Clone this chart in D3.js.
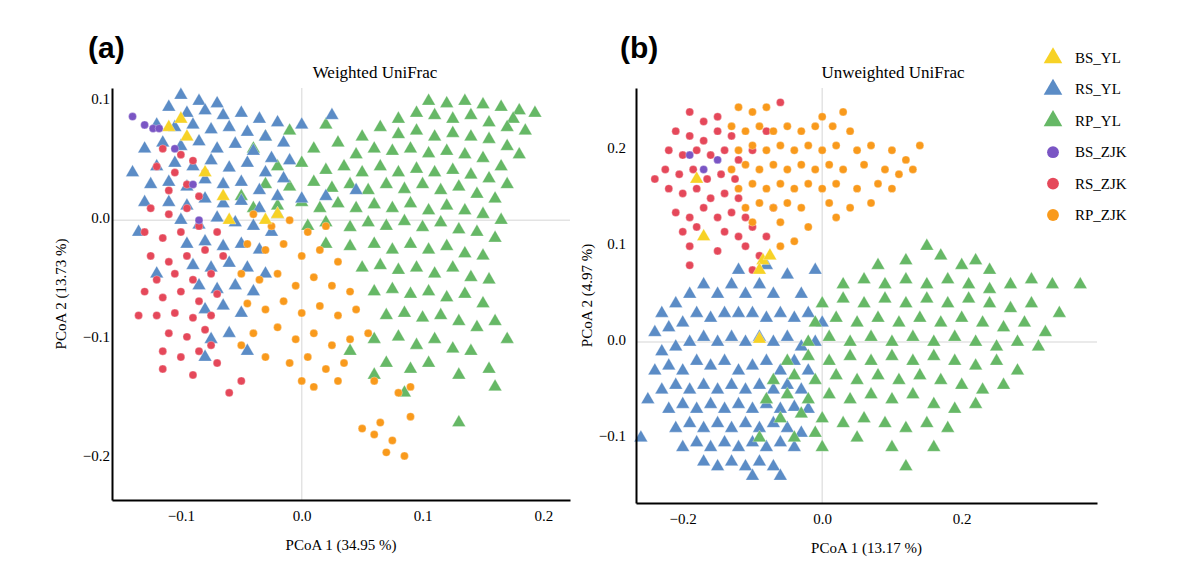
<!DOCTYPE html>
<html lang="en">
<head>
<meta charset="UTF-8">
<title>PCoA</title>
<script src="https://d3js.org/d3.v7.min.js"></script>
<style>body{margin:0;background:#fff;}</style>
</head>
<body>
<div id="chart"></div>
<script>
// groups and colours
var groups = ["BS_YL", "RS_YL", "RP_YL", "BS_ZJK", "RS_ZJK", "RP_ZJK"];
var colours = {BS_YL: "#f7d226", RS_YL: "#5b8cc6", RP_YL: "#66b866", BS_ZJK: "#7a55c4", RS_ZJK: "#e5485a", RP_ZJK: "#f99a1c"};
var shapes = {BS_YL: "tri", RS_YL: "tri", RP_YL: "tri", BS_ZJK: "circ", RS_ZJK: "circ", RP_ZJK: "circ"};

// ---- panel (a) weighted unifrac points ----
var a_RP_YL = [[0.105,0.1],[0.12,0.098],[0.135,0.1],[0.15,0.097],[0.165,0.095],[0.18,0.092],[0.193,0.09],[0.175,0.085],
[0.08,0.085],[0.095,0.09],[0.11,0.088],[0.125,0.085],[0.14,0.088],[0.155,0.082],[0.17,0.078],[0.185,0.075],
[0.05,0.07],[0.065,0.078],[0.08,0.072],[0.095,0.075],[0.11,0.07],[0.125,0.073],[0.14,0.07],[0.155,0.068],[0.17,0.062],[0.18,0.055],
[0.01,0.06],[0.03,0.065],[0.045,0.055],[0.06,0.06],[0.075,0.058],[0.09,0.06],[0.105,0.056],[0.12,0.058],[0.135,0.055],[0.15,0.052],[0.165,0.045],
[-0.02,0.045],[0.0,0.048],[0.02,0.042],[0.035,0.045],[0.05,0.04],[0.065,0.045],[0.08,0.04],[0.095,0.043],[0.11,0.04],[0.125,0.042],[0.14,0.038],[0.155,0.035],[0.17,0.03],
[-0.03,0.03],[-0.01,0.028],[0.01,0.032],[0.025,0.027],[0.04,0.03],[0.055,0.025],[0.07,0.03],[0.085,0.026],[0.1,0.03],[0.115,0.025],[0.13,0.028],[0.145,0.022],[0.16,0.018],
[-0.02,0.012],[0.0,0.015],[0.015,0.01],[0.03,0.014],[0.045,0.01],[0.06,0.013],[0.075,0.01],[0.09,0.014],[0.105,0.008],[0.12,0.012],[0.135,0.008],[0.15,0.005],[0.165,0.0],
[0.005,-0.005],[0.02,-0.002],[0.04,-0.006],[0.055,-0.002],[0.07,-0.005],[0.085,-0.001],[0.1,-0.006],[0.115,-0.002],[0.13,-0.008],[0.145,-0.01],[0.16,-0.015],
[0.02,-0.02],[0.04,-0.022],[0.06,-0.02],[0.075,-0.025],[0.09,-0.02],[0.105,-0.025],[0.12,-0.022],[0.135,-0.028],[0.15,-0.03],
[0.05,-0.04],[0.065,-0.038],[0.08,-0.042],[0.095,-0.04],[0.11,-0.045],[0.125,-0.04],[0.14,-0.048],[0.155,-0.05],
[0.06,-0.06],[0.075,-0.058],[0.09,-0.062],[0.105,-0.06],[0.12,-0.065],[0.135,-0.062],[0.15,-0.07],
[0.07,-0.08],[0.085,-0.078],[0.1,-0.082],[0.115,-0.08],[0.13,-0.085],[0.145,-0.09],[0.16,-0.085],
[0.06,-0.1],[0.08,-0.098],[0.095,-0.105],[0.11,-0.1],[0.125,-0.108],[0.14,-0.11],[0.17,-0.1],
[0.07,-0.12],[0.09,-0.125],[0.105,-0.12],[0.13,-0.13],[0.155,-0.125],[0.16,-0.14],[0.13,-0.17],[0.085,-0.145],[0.06,-0.13],[0.04,-0.11],
[-0.04,0.06],[-0.03,0.07],[-0.01,0.075],[0.02,0.08],[-0.05,0.02],[-0.04,0.01]];
var a_RS_YL = [[-0.1,0.105],[-0.085,0.1],[-0.07,0.098],[-0.11,0.095],[-0.095,0.09],[-0.08,0.092],[-0.065,0.088],[-0.05,0.09],[-0.035,0.085],[-0.02,0.082],[0.0,0.08],[0.025,0.088],
[-0.12,0.08],[-0.105,0.078],[-0.09,0.08],[-0.075,0.076],[-0.06,0.078],[-0.045,0.074],[-0.03,0.07],[-0.015,0.065],
[-0.13,0.06],[-0.115,0.065],[-0.1,0.062],[-0.085,0.066],[-0.07,0.06],[-0.055,0.064],[-0.04,0.058],[-0.025,0.052],[-0.01,0.05],
[-0.14,0.04],[-0.12,0.045],[-0.105,0.048],[-0.09,0.045],[-0.075,0.05],[-0.06,0.044],[-0.045,0.048],[-0.03,0.04],[-0.015,0.035],
[-0.125,0.03],[-0.11,0.032],[-0.095,0.028],[-0.08,0.034],[-0.065,0.03],[-0.05,0.032],[-0.035,0.025],[-0.02,0.02],[0.0,0.018],[0.02,0.02],[0.045,0.025],
[-0.11,0.015],[-0.095,0.012],[-0.08,0.018],[-0.065,0.014],[-0.05,0.016],[-0.035,0.01],[-0.02,0.005],
[-0.1,0.0],[-0.085,-0.004],[-0.07,0.002],[-0.055,-0.002],[-0.04,-0.005],[-0.025,-0.01],
[-0.095,-0.02],[-0.08,-0.018],[-0.065,-0.022],[-0.05,-0.02],[-0.035,-0.025],
[-0.09,-0.038],[-0.075,-0.04],[-0.06,-0.036],[-0.045,-0.04],[-0.03,-0.045],
[-0.085,-0.055],[-0.07,-0.058],[-0.055,-0.055],[-0.04,-0.06],
[-0.08,-0.075],[-0.065,-0.072],[-0.05,-0.078],[-0.06,-0.095],[-0.075,-0.1],[-0.045,-0.11],[-0.08,-0.115],[-0.12,-0.045],[-0.135,-0.01],[-0.13,0.015]];
var a_RS_ZJK = [[-0.115,0.06],[-0.1,0.055],[-0.12,0.045],[-0.105,0.04],[-0.09,0.05],[-0.11,0.025],[-0.095,0.03],[-0.08,0.04],[-0.125,0.01],[-0.11,0.005],[-0.095,0.01],[-0.085,0.02],
[-0.13,-0.01],[-0.115,-0.015],[-0.1,-0.01],[-0.085,-0.005],[-0.07,-0.01],
[-0.125,-0.03],[-0.11,-0.035],[-0.095,-0.03],[-0.08,-0.025],[-0.065,-0.03],
[-0.12,-0.05],[-0.105,-0.045],[-0.09,-0.05],[-0.075,-0.045],
[-0.13,-0.06],[-0.115,-0.065],[-0.1,-0.06],[-0.085,-0.068],[-0.07,-0.062],
[-0.12,-0.08],[-0.105,-0.078],[-0.09,-0.082],[-0.075,-0.08],
[-0.11,-0.095],[-0.095,-0.098],[-0.08,-0.092],[-0.115,-0.11],[-0.1,-0.115],[-0.085,-0.11],[-0.075,-0.105],
[-0.09,-0.13],[-0.07,-0.12],[-0.05,-0.135],[-0.06,-0.145],[-0.115,-0.125],[-0.135,-0.08]];
var a_RP_ZJK = [[-0.04,0.005],[-0.025,-0.005],[-0.01,0.0],[0.005,-0.01],[0.02,-0.005],
[-0.045,-0.02],[-0.03,-0.025],[-0.015,-0.02],[0.0,-0.03],[0.015,-0.025],[0.03,-0.035],
[-0.05,-0.045],[-0.035,-0.05],[-0.02,-0.045],[-0.005,-0.055],[0.01,-0.048],[0.025,-0.055],[0.04,-0.06],
[-0.045,-0.07],[-0.03,-0.075],[-0.015,-0.068],[0.0,-0.078],[0.015,-0.072],[0.03,-0.08],[0.045,-0.075],
[-0.04,-0.095],[-0.02,-0.09],[-0.005,-0.1],[0.01,-0.095],[0.025,-0.105],[0.04,-0.1],[0.055,-0.095],
[-0.03,-0.115],[-0.01,-0.12],[0.005,-0.115],[0.02,-0.125],[0.035,-0.12],[-0.05,-0.105],
[0.01,-0.14],[0.03,-0.135],[0.0,-0.135],[0.06,-0.135],[0.08,-0.145],[0.09,-0.14],[0.09,-0.165],[0.065,-0.17],[0.06,-0.18],[0.075,-0.185],[0.07,-0.195],[0.085,-0.198],[0.05,-0.175]];
var a_BS_YL = [[-0.1,0.085],[-0.11,0.078],[-0.095,0.07],[-0.08,0.04],[-0.065,0.02],[-0.06,0.0],[-0.03,0.0],[-0.02,0.005]];
var a_BS_ZJK = [[-0.14,0.087],[-0.13,0.08],[-0.123,0.077],[-0.118,0.077],[-0.105,0.06],[-0.09,0.03],[-0.085,0.0]];

// ---- panel (b) unweighted unifrac points ----
var b_RS_ZJK = [[-0.19,0.24],[-0.17,0.23],[-0.15,0.235],[-0.21,0.22],[-0.19,0.215],[-0.17,0.21],[-0.15,0.22],[-0.13,0.215],
[-0.22,0.2],[-0.2,0.195],[-0.18,0.2],[-0.16,0.195],[-0.14,0.2],[-0.12,0.19],
[-0.225,0.18],[-0.205,0.175],[-0.185,0.18],[-0.165,0.17],[-0.145,0.175],[-0.125,0.17],
[-0.22,0.16],[-0.2,0.155],[-0.18,0.16],[-0.16,0.15],[-0.14,0.155],[-0.12,0.15],
[-0.21,0.135],[-0.19,0.13],[-0.17,0.14],[-0.15,0.13],[-0.13,0.135],[-0.11,0.13],
[-0.2,0.115],[-0.18,0.12],[-0.14,0.115],[-0.12,0.11],[-0.1,0.12],[-0.08,0.11],
[-0.19,0.1],[-0.15,0.095],[-0.11,0.1],[-0.09,0.09],[-0.19,0.08],[-0.1,0.075],[-0.07,0.14],[-0.06,0.25],[-0.08,0.22],[-0.1,0.2],[-0.24,0.17]];
var b_RP_ZJK = [[-0.12,0.245],[-0.1,0.24],[-0.08,0.245],[0.0,0.235],[0.03,0.24],[0.015,0.225],
[-0.13,0.225],[-0.11,0.22],[-0.09,0.225],[-0.07,0.22],[-0.05,0.225],[-0.03,0.22],[-0.01,0.225],[0.04,0.22],
[-0.12,0.2],[-0.1,0.205],[-0.08,0.2],[-0.06,0.205],[-0.04,0.2],[-0.02,0.205],[0.0,0.2],[0.02,0.205],[0.05,0.2],[0.07,0.205],[0.1,0.2],[0.14,0.205],[0.12,0.19],
[-0.13,0.18],[-0.11,0.185],[-0.09,0.18],[-0.07,0.185],[-0.05,0.18],[-0.03,0.185],[-0.01,0.18],[0.01,0.185],[0.03,0.18],[0.06,0.185],[0.09,0.18],[0.11,0.175],[0.13,0.18],
[-0.12,0.16],[-0.1,0.165],[-0.08,0.16],[-0.06,0.165],[-0.04,0.16],[-0.02,0.165],[0.0,0.16],[0.02,0.165],[0.05,0.16],[0.08,0.165],[0.1,0.16],
[-0.11,0.14],[-0.09,0.145],[-0.07,0.14],[-0.05,0.145],[-0.03,0.14],[0.01,0.145],[0.04,0.14],[0.07,0.145],
[-0.1,0.125],[-0.06,0.125],[-0.02,0.12],[0.02,0.13],[-0.04,0.105],[-0.06,0.1]];
var b_RS_YL = [[-0.23,0.03],[-0.21,0.04],[-0.19,0.05],[-0.17,0.06],[-0.15,0.05],[-0.13,0.06],[-0.11,0.05],[-0.09,0.06],[-0.07,0.05],[-0.05,0.07],[-0.03,0.05],[-0.01,0.075],[-0.12,0.075],[-0.08,0.08],
[-0.24,0.01],[-0.22,0.015],[-0.2,0.02],[-0.18,0.03],[-0.16,0.025],[-0.14,0.03],[-0.12,0.03],[-0.1,0.03],[-0.08,0.025],[-0.06,0.03],[-0.04,0.025],[-0.02,0.03],[0.0,0.02],
[-0.23,-0.01],[-0.21,-0.005],[-0.19,0.0],[-0.17,0.005],[-0.15,0.0],[-0.13,0.005],[-0.11,0.0],[-0.09,0.005],[-0.07,0.0],[-0.05,0.005],[-0.03,-0.005],[-0.01,0.0],
[-0.24,-0.03],[-0.22,-0.025],[-0.2,-0.03],[-0.18,-0.02],[-0.16,-0.025],[-0.14,-0.02],[-0.12,-0.03],[-0.1,-0.025],[-0.08,-0.02],[-0.06,-0.03],[-0.04,-0.02],[-0.02,-0.03],
[-0.23,-0.05],[-0.21,-0.045],[-0.19,-0.05],[-0.17,-0.045],[-0.15,-0.05],[-0.13,-0.045],[-0.11,-0.05],[-0.09,-0.045],[-0.07,-0.05],[-0.05,-0.045],[-0.03,-0.05],
[-0.22,-0.07],[-0.2,-0.065],[-0.18,-0.07],[-0.16,-0.065],[-0.14,-0.07],[-0.12,-0.065],[-0.1,-0.07],[-0.08,-0.065],[-0.06,-0.07],[-0.04,-0.068],[-0.02,-0.07],
[-0.21,-0.09],[-0.19,-0.085],[-0.17,-0.09],[-0.15,-0.085],[-0.13,-0.09],[-0.11,-0.085],[-0.09,-0.09],[-0.07,-0.085],[-0.05,-0.09],[-0.03,-0.095],
[-0.2,-0.11],[-0.18,-0.105],[-0.16,-0.11],[-0.14,-0.105],[-0.12,-0.11],[-0.1,-0.105],[-0.08,-0.11],[-0.06,-0.105],[-0.04,-0.11],
[-0.17,-0.125],[-0.15,-0.13],[-0.13,-0.125],[-0.11,-0.13],[-0.09,-0.125],[-0.07,-0.13],[-0.1,-0.14],[-0.06,-0.14],[-0.25,-0.06],[-0.26,-0.1]];
var b_RP_YL = [[0.15,0.1],[0.17,0.09],[0.2,0.08],[0.22,0.085],[0.24,0.075],[0.08,0.08],[0.12,0.085],
[0.03,0.06],[0.06,0.065],[0.09,0.06],[0.12,0.065],[0.15,0.06],[0.18,0.065],[0.21,0.06],[0.24,0.055],[0.27,0.06],[0.3,0.065],[0.33,0.06],
[0.0,0.04],[0.03,0.045],[0.06,0.04],[0.09,0.045],[0.12,0.04],[0.15,0.045],[0.18,0.04],[0.21,0.045],[0.24,0.04],[0.27,0.035],[0.3,0.04],[0.34,0.03],
[-0.01,0.02],[0.02,0.025],[0.05,0.02],[0.08,0.025],[0.11,0.02],[0.14,0.025],[0.17,0.02],[0.2,0.025],[0.23,0.02],[0.26,0.015],[0.29,0.02],[0.32,0.01],[0.37,0.06],
[-0.02,0.0],[0.01,0.005],[0.04,0.0],[0.07,0.005],[0.1,0.0],[0.13,0.005],[0.16,0.0],[0.19,0.005],[0.22,0.0],[0.25,-0.005],[0.28,0.0],[0.31,-0.005],
[-0.05,-0.02],[-0.02,-0.015],[0.01,-0.02],[0.04,-0.015],[0.07,-0.02],[0.1,-0.015],[0.13,-0.02],[0.16,-0.015],[0.19,-0.02],[0.22,-0.025],[0.25,-0.02],[0.28,-0.03],
[-0.07,-0.04],[-0.04,-0.035],[-0.01,-0.04],[0.02,-0.035],[0.05,-0.04],[0.08,-0.035],[0.11,-0.04],[0.14,-0.035],[0.17,-0.04],[0.2,-0.045],[0.23,-0.05],[0.26,-0.045],
[-0.08,-0.06],[-0.05,-0.055],[-0.02,-0.06],[0.01,-0.055],[0.04,-0.06],[0.07,-0.055],[0.1,-0.06],[0.13,-0.055],[0.16,-0.065],[0.19,-0.07],[0.22,-0.065],
[-0.06,-0.08],[-0.03,-0.075],[0.0,-0.08],[0.03,-0.085],[0.06,-0.08],[0.09,-0.085],[0.12,-0.09],[0.15,-0.085],[0.18,-0.09],
[-0.04,-0.1],[-0.01,-0.095],[0.05,-0.1],[0.1,-0.11],[0.16,-0.11],[0.12,-0.13],[0.0,-0.11],[-0.09,-0.1]];
var b_BS_YL = [[-0.17,0.11],[-0.085,0.085],[-0.075,0.09],[-0.09,0.075],[-0.09,0.003],[-0.18,0.17]];
var b_BS_ZJK = [[-0.19,0.195],[-0.17,0.18],[-0.15,0.19]];

var aTicksX = [-0.1, 0.0, 0.1, 0.2], aTicksY = [-0.2, -0.1, 0.0, 0.1];
var bTicksX = [-0.2, 0.0, 0.2], bTicksY = [-0.1, 0.0, 0.1, 0.2];

var W = 1178, H = 567;
var svg = d3.select("#chart").append("svg").attr("width", W).attr("height", H);

function panel(opt) {
  var x = d3.scaleLinear().domain(opt.xd).range([opt.left, opt.right]);
  var y = d3.scaleLinear().domain(opt.yd).range([opt.bottom, opt.top]);
  var g = svg.append("g");
  // zero lines
  g.append("line").attr("x1", x(0)).attr("x2", x(0)).attr("y1", opt.top).attr("y2", opt.bottom)
    .attr("stroke", "#e3e3e3").attr("stroke-width", 1.5);
  g.append("line").attr("x1", opt.left).attr("x2", opt.right).attr("y1", y(0)).attr("y2", y(0))
    .attr("stroke", "#e3e3e3").attr("stroke-width", 1.5);

  opt.series.forEach(function(s) {
    var sym = d3.symbol().type(shapes[s.key] == "tri" ? d3.symbolTriangle : d3.symbolCircle)
      .size(shapes[s.key] == "tri" ? 80 : 50);
    g.append("g").selectAll("path").data(s.data).enter().append("path")
      .attr("d", sym)
      .attr("transform", function(d) { return "translate(" + x(d[0]) + "," + y(d[1]) + ")"; })
      .attr("fill", colours[s.key])
      .attr("stroke", "#fff").attr("stroke-width", 0.3);
  });

  var fmt = d3.format(".1f");
  var ax = g.append("g").attr("transform", "translate(0," + opt.bottom + ")")
    .call(d3.axisBottom(x).tickValues(opt.tx).tickFormat(fmt).tickSize(0).tickPadding(10));
  var ay = g.append("g").attr("transform", "translate(" + opt.left + ",0)")
    .call(d3.axisLeft(y).tickValues(opt.ty).tickFormat(fmt).tickSize(0).tickPadding(opt.ypad));
  [ax, ay].forEach(function(a) {
    a.select(".domain").attr("stroke", "#000").attr("stroke-width", 2);
    a.selectAll("text").attr("font-family", "Liberation Serif").attr("font-size", 15).attr("fill", "#000");
  });
  ay.selectAll("text").attr("dy", "0.15em");

  g.append("text").attr("x", (opt.left + opt.right) / 2).attr("y", opt.bottom + 50)
    .attr("text-anchor", "middle").attr("font-family", "Liberation Serif").attr("font-size", 15).text(opt.xlab);
  g.append("text").attr("transform", "translate(" + opt.ylx + "," + (opt.top + opt.bottom) / 2 + ") rotate(-90)")
    .attr("text-anchor", "middle").attr("font-family", "Liberation Serif").attr("font-size", 15).text(opt.ylab);
  g.append("text").attr("x", opt.titleX).attr("y", 78).attr("text-anchor", "middle")
    .attr("font-family", "Liberation Serif").attr("font-size", 17).text(opt.title);
  g.append("text").attr("x", opt.tagX).attr("y", 58).attr("font-family", "Liberation Sans")
    .attr("font-weight", "bold").attr("font-size", 30).text(opt.tag);
}

panel({
  left: 112, right: 570, top: 88, bottom: 500,
  xd: [-0.157, 0.222], yd: [-0.235, 0.111], tx: aTicksX, ty: aTicksY, ypad: 2,
  xlab: "PCoA 1 (34.95 %)", ylab: "PCoA 2 (13.73 %)", ylx: 66, title: "Weighted UniFrac", titleX: 375,
  tag: "(a)", tagX: 88,
  series: [{key: "RP_YL", data: a_RP_YL}, {key: "RS_YL", data: a_RS_YL}, {key: "RS_ZJK", data: a_RS_ZJK},
           {key: "RP_ZJK", data: a_RP_ZJK}, {key: "BS_YL", data: a_BS_YL}, {key: "BS_ZJK", data: a_BS_ZJK}]
});

panel({
  left: 636, right: 1097, top: 88, bottom: 503,
  xd: [-0.267, 0.394], yd: [-0.168, 0.265], tx: bTicksX, ty: bTicksY, ypad: 10,
  xlab: "PCoA 1 (13.17 %)", ylab: "PCoA 2 (4.97 %)", ylx: 592, title: "Unweighted UniFrac", titleX: 893,
  tag: "(b)", tagX: 620,
  series: [{key: "RS_YL", data: b_RS_YL}, {key: "RP_YL", data: b_RP_YL}, {key: "RS_ZJK", data: b_RS_ZJK},
           {key: "RP_ZJK", data: b_RP_ZJK}, {key: "BS_YL", data: b_BS_YL}, {key: "BS_ZJK", data: b_BS_ZJK}]
});

// legend
var lg = svg.append("g");
groups.forEach(function(k, i) {
  var yy = 58 + i * 31.4;
  var sym = d3.symbol().type(shapes[k] == "tri" ? d3.symbolTriangle : d3.symbolCircle).size(shapes[k] == "tri" ? 150 : 110);
  lg.append("path").attr("d", sym).attr("transform", "translate(1053," + yy + ")").attr("fill", colours[k]);
  lg.append("text").attr("x", 1075).attr("y", yy + 5).attr("font-family", "Liberation Serif")
    .attr("font-size", 15).text(k);
});
</script>
</body>
</html>
